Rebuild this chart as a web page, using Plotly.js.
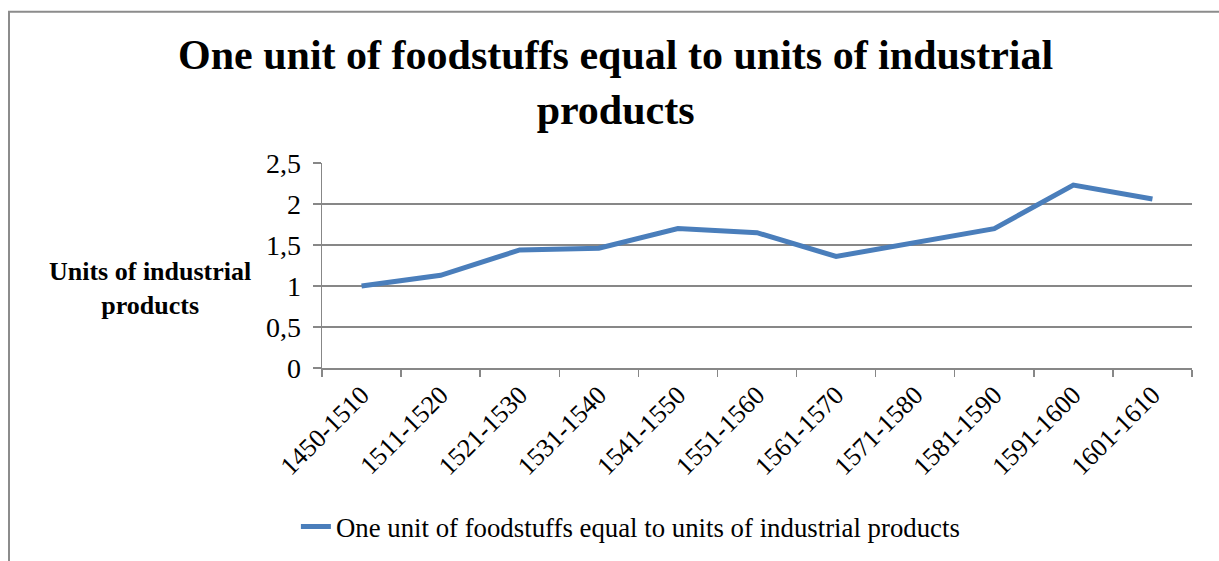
<!DOCTYPE html>
<html>
<head>
<meta charset="utf-8">
<script src="https://cdn.plot.ly/plotly-3.0.1.min.js"></script>
<style>
  html, body { margin: 0; padding: 0; background: #ffffff; }
  #chart { width: 1219px; height: 561px; }
</style>
</head>
<body>
<div id="chart"></div>
<script>
const periods = ["1450-1510", "1511-1520", "1521-1530", "1531-1540", "1541-1550", "1551-1560",
                 "1561-1570", "1571-1580", "1581-1590", "1591-1600", "1601-1610"];
const ratio = [1.0, 1.13, 1.44, 1.46, 1.70, 1.65, 1.36, 1.53, 1.70, 2.23, 2.06];
const seriesName = "One unit of foodstuffs equal to units of industrial products";
const chartTitle = "One unit of foodstuffs equal to units of industrial<br>products";
const yTitle = "Units of industrial<br>products";

const serif = "Liberation Serif, Times New Roman, Times, serif";
const gridCol = "#878787";

const trace = {
  type: "scatter",
  mode: "lines",
  x: periods,
  y: ratio,
  name: seriesName,
  line: { color: "#4a7ebb", width: 5 },
  hoverinfo: "x+y"
};

const layout = {
  width: 1219,
  height: 561,
  margin: { l: 322, r: 27, t: 163, b: 192 },
  paper_bgcolor: "#ffffff",
  plot_bgcolor: "#ffffff",
  separators: ", ",
  font: { family: serif, color: "#000000", size: 24 },
  title: {
    text: chartTitle,
    font: { family: serif, size: 42, color: "#000000", weight: "bold" },
    x: 0.505, xanchor: "center",
    y: 0.877, yanchor: "middle"
  },
  xaxis: {
    type: "category",
    range: [-0.5, 10.5],
    tickson: "boundaries",
    ticks: "outside",
    ticklen: 7,
    tickcolor: gridCol,
    tickwidth: 1.5,
    showline: true,
    linecolor: gridCol,
    linewidth: 1.5,
    showgrid: false,
    tickangle: -45,
    tickfont: { family: serif, size: 26, color: "#000000" },
    fixedrange: true
  },
  yaxis: {
    range: [0, 2.5],
    dtick: 0.5,
    tick0: 0,
    ticks: "outside",
    ticklen: 8,
    tickcolor: gridCol,
    tickwidth: 1.5,
    ticklabelstandoff: 6,
    showline: true,
    linecolor: gridCol,
    linewidth: 1.5,
    showgrid: true,
    gridcolor: gridCol,
    gridwidth: 1.5,
    zeroline: false,
    tickfont: { family: serif, size: 28, color: "#000000" },
    fixedrange: true
  },
  showlegend: true,
  legend: {
    orientation: "h",
    x: -0.03, xanchor: "left",
    y: -0.765, yanchor: "middle",
    font: { family: serif, size: 26.8, color: "#000000" },
    bgcolor: "rgba(0,0,0,0)"
  },
  annotations: [{
    text: yTitle,
    xref: "paper", yref: "paper",
    x: -0.198, y: 0.39,
    xanchor: "center", yanchor: "middle",
    showarrow: false,
    align: "center",
    font: { family: serif, size: 26, color: "#000000", weight: "bold" }
  }],
  shapes: [{
    type: "rect",
    xref: "paper", yref: "paper",
    x0: (9 - 322) / 870, x1: 1.2,
    y0: -1.2, y1: (369 - 11) / 206,
    line: { color: "#8c8c8c", width: 2 },
    fillcolor: "rgba(0,0,0,0)",
    layer: "below"
  }]
};

Plotly.newPlot("chart", [trace], layout, { displayModeBar: false, staticPlot: true });
</script>
</body>
</html>
